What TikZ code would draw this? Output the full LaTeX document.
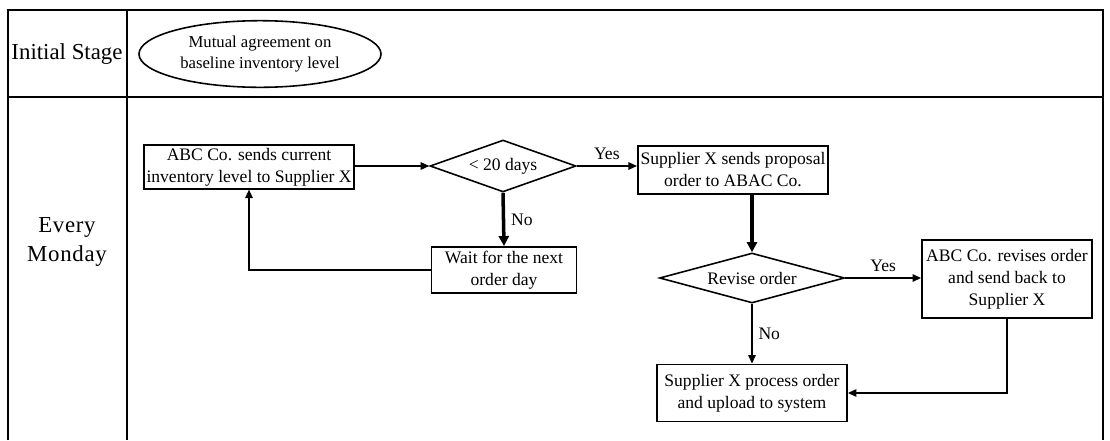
\documentclass[tikz,border=0pt]{standalone}
\usepackage{fontspec}
\setmainfont{Liberation Serif}
\usetikzlibrary{shapes.geometric,arrows.meta}

\tikzset{
  lane/.style={font=\fontsize{13}{17}\selectfont,align=center},
  box/.style={draw,rectangle,line width=1.1pt,align=center,font=\fontsize{10}{12.5}\selectfont,inner sep=1.5pt},
  decision/.style={draw,diamond,aspect=2.8,line width=0.9pt,inner sep=1pt,font=\fontsize{10}{12.5}\selectfont},
  flow/.style={line width=0.8pt,-{Triangle[length=1.7mm,width=1.5mm]}},
  thickflow/.style={line width=2pt,-{Triangle[length=2mm,width=2mm]}},
  lbl/.style={font=\fontsize{10}{12.5}\selectfont}
}

\begin{document}
\begin{tikzpicture}[x=0.02cm,y=-0.02cm]
\useasboundingbox (0,0) rectangle (1110,440);

% table frame
\draw[line width=0.9pt] (8,440) -- (8,10) -- (1103,10) -- (1103,440);
\draw[line width=0.9pt] (8,97) -- (1103,97);
\draw[line width=0.9pt] (127,10) -- (127,440);

% stage labels
\node[lane] (initial) at (67,54) {Initial Stage};
\node[lane,font=\fontsize{13}{17}\selectfont\addfontfeature{LetterSpace=3}] (monday) at (67,242) {Every\\Monday};

% initial stage
\node[draw,ellipse,line width=0.9pt,minimum width=4.72cm,minimum height=1.24cm,align=center,font=\fontsize{9.5}{11.5}\selectfont] (agree) at (260,54) {Mutual agreement on\\baseline inventory level};

% every monday
\node[box,minimum width=4.16cm,minimum height=0.86cm] (abc) at (249,167) {ABC Co. sends current\\inventory level to Supplier X};
\node[decision,minimum width=2.92cm,minimum height=1.04cm] (days) at (503,166) {\textless{} 20 days};
\node[box,minimum width=2.9cm,minimum height=0.92cm] (wait) at (504,270) {Wait for the next\\order day};
\node[box,minimum width=3.4cm,minimum height=0.96cm] (proposal) at (733,170) {Supplier X sends proposal\\order to ABAC Co.};
\node[decision,minimum width=3.7cm,minimum height=1cm] (revise) at (752,278) {Revise order};
\node[box,minimum width=3.4cm,minimum height=1.56cm] (revised) at (1007,279) {ABC Co. revises order\\and send back to\\Supplier X};
\node[box,minimum width=3.8cm,minimum height=1.14cm] (upload) at (752,393) {Supplier X process order\\and upload to system};

% connectors
\draw[flow] (abc.east |- days.west) -- (days.west);
\draw[flow] (days.east) -- (days.east -| proposal.west) node[lbl,midway,above] {Yes};
\draw[thickflow] (days.south) -- (wait.north) node[lbl,midway,right] {No};
\draw[flow] (wait.west) -| (abc.south);
\draw[thickflow] (revise.north |- proposal.south) -- (revise.north);
\draw[flow] (revise.east) -- (revise.east -| revised.west) node[lbl,midway,above] {Yes};
\draw[flow] (revise.south) -- (upload.north) node[lbl,midway,right] {No};
\draw[flow] (revised.south) |- (upload.east);
\end{tikzpicture}
\end{document}
